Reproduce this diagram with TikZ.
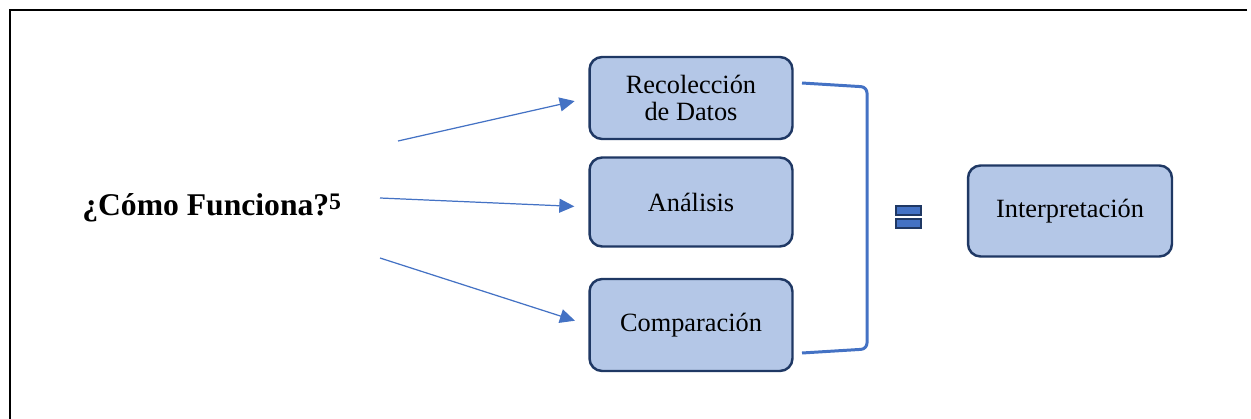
\documentclass[tikz,border=0pt]{standalone}
\usepackage{fontspec}
\setmainfont{Liberation Serif}
\usetikzlibrary{arrows.meta}
\definecolor{boxfill}{HTML}{B4C7E7}
\definecolor{boxline}{HTML}{1F3864}
\definecolor{linkblue}{HTML}{4472C4}
\begin{document}
\begin{tikzpicture}[x=0.02cm,y=-0.02cm,
  stepbox/.style={draw=boxline,fill=boxfill,line width=1.4pt,rounded corners=0.25cm,
    minimum width=4.06cm,align=center,font=\fontsize{15}{15.3}\selectfont},
  link/.style={draw=linkblue,line width=0.7pt,-{Triangle[length=0.3cm,width=0.28cm]},
    shorten >=0.28cm}]
  \useasboundingbox (0,0) rectangle (1251,419);
  \draw[line width=0.6pt] (1247,10) -- (10,10) -- (10,419);
  \node[anchor=base west,inner sep=0pt,font=\fontsize{18}{20}\selectfont\bfseries] (q) at (82,215)
    {¿Cómo Funciona?\raisebox{3.2pt}{\fontsize{13.5}{13.5}\selectfont\bfseries 5}};
  \node[stepbox,minimum height=1.64cm] (rec) at (691,98) {Recolección\\de Datos};
  \node[stepbox,minimum height=1.78cm] (ana) at (691,202) {Análisis};
  \node[stepbox,minimum height=1.84cm] (com) at (691,325) {Comparación};
  \node[stepbox,minimum height=1.82cm,minimum width=4.08cm] (int) at (1070,211) {Interpretación};
  \coordinate (s1) at (398,141);
  \coordinate (s2) at (380,198);
  \coordinate (s3) at (380,258);
  \draw[link] (s1) -- (rec.west);
  \draw[link] (s2) -- ([yshift=-0.1cm]ana.west);
  \draw[link] (s3) -- (com.west);
  \draw[linkblue,line width=1.7pt,rounded corners=0.12cm]
    (802,83) -- (867,87) -- (867,349) -- (802,353);
  \filldraw[fill=linkblue,draw=boxline,line width=0.8pt]
    (896,206) rectangle (921,215) (896,219) rectangle (921,228);
\end{tikzpicture}
\end{document}
